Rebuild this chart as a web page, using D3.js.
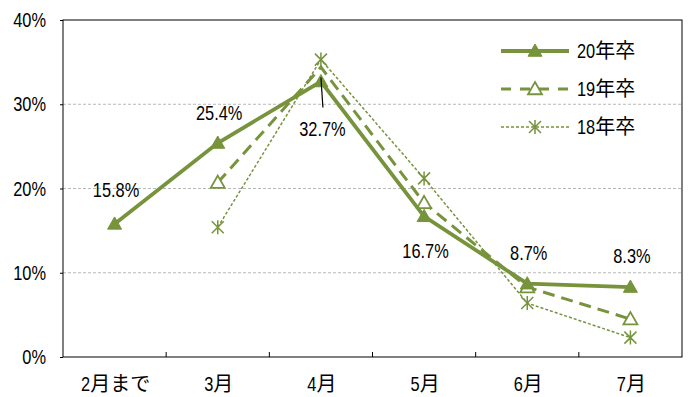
<!DOCTYPE html>
<html><head><meta charset="utf-8">
<script src="https://cdn.jsdelivr.net/npm/d3@7"></script>
<style>
body{margin:0;background:#fff;}
</style></head>
<body><svg id="c" width="691" height="397"></svg>
<script>
const categories = ["2月まで","3月","4月","5月","6月","7月"];
const s20 = [15.8, 25.4, 32.7, 16.7, 8.7, 8.3];
const s19 = [null, 20.7, 34.4, 18.3, 8.3, 4.5];
const s18 = [null, 15.4, 35.3, 21.2, 6.4, 2.3];
const seriesNames = ["20年卒","19年卒","18年卒"];
const yTicks = [0,10,20,30,40];
const labels20 = ["15.8%","25.4%","32.7%","16.7%","8.7%","8.3%"];

const green = "#77933C";
const FS = 20, SX = 0.82;
const svg = d3.select("#c");
const L=63, R=682, T=20, B=357;
const x = d3.scaleBand().domain(categories).range([L,R]);
const y = d3.scaleLinear().domain([0,40]).range([B,T]);
const cx = c => x(c)+x.bandwidth()/2;

// text helper: Latin runs condensed, CJK runs normal width
function richText(g, str, px, py, anchor){
  const grp = g.append("g");
  const runs = str.match(/[\x00-\x7F]+|[^\x00-\x7F]+/g);
  let cur = 0;
  runs.forEach(r=>{
    const ascii = /^[\x00-\x7F]+$/.test(r);
    const t = grp.append("text").attr("font-size",FS).attr("fill","#000")
      .attr("font-family", ascii ? "Liberation Sans, Arial, sans-serif" : "Noto Sans CJK JP, sans-serif")
      .text(r);
    const w = t.node().getComputedTextLength() * (ascii ? SX : 1);
    t.attr("transform", `translate(${cur},0)` + (ascii ? ` scale(${SX},1)` : ""));
    cur += w;
  });
  const off = anchor==="middle" ? -cur/2 : anchor==="end" ? -cur : 0;
  grp.attr("transform", `translate(${px+off},${py})`);
  return grp;
}

// gridlines
svg.append("g").selectAll("line").data(yTicks.filter(d=>d>0&&d<40)).join("line")
  .attr("x1",L).attr("x2",R).attr("y1",d=>y(d)).attr("y2",d=>y(d))
  .attr("stroke","#b8b8b8").attr("stroke-dasharray","3,2").attr("stroke-width",1);

// frame
svg.append("rect").attr("x",L).attr("y",T).attr("width",R-L).attr("height",B-T)
  .attr("fill","none").attr("stroke","#000").attr("stroke-width",1);

// y axis
const ya = svg.append("g").attr("transform",`translate(${L},0)`)
  .call(d3.axisLeft(y).tickValues(yTicks).tickFormat("").tickSize(3));
ya.select(".domain").remove();
ya.selectAll("line").attr("stroke","#000");
const yl = svg.append("g");
yTicks.forEach(d=>richText(yl, d+"%", 46, y(d)+7, "end"));

// x axis (ticks inward, at band boundaries)
const bounds = categories.slice(1).map(c=>x(c));
svg.append("g").selectAll("line").data(bounds).join("line")
  .attr("x1",d=>d).attr("x2",d=>d).attr("y1",B).attr("y2",B-5).attr("stroke","#000");
const xl = svg.append("g");
categories.forEach(c=>richText(xl, c, cx(c)+1, 391, "middle"));

const line = d3.line().defined(d=>d.v!=null).x(d=>cx(d.c)).y(d=>y(d.v));
const toPts = arr => categories.map((c,i)=>({c, v:arr[i]}));

function triangle(g, px, py, filled){
  const s=7;
  g.append("path").attr("d",`M${px},${py-s}L${px+s},${py+s*0.75}L${px-s},${py+s*0.75}Z`)
   .attr("fill",filled?green:"#fff").attr("stroke",green).attr("stroke-width",filled?1:1.8);
}
function star(g, px, py){
  const s=6;
  g.append("path").attr("d",`M${px-s},${py-s}L${px+s},${py+s}M${px+s},${py-s}L${px-s},${py+s}M${px},${py-s-1}L${px},${py+s+1}`)
   .attr("stroke",green).attr("stroke-width",1.5).attr("fill","none");
}

// 18
const g18 = svg.append("g");
g18.append("path").datum(toPts(s18)).attr("d",line).attr("fill","none")
  .attr("stroke",green).attr("stroke-width",1.5).attr("stroke-dasharray","3,2");
toPts(s18).filter(d=>d.v!=null).forEach(d=>star(g18,cx(d.c),y(d.v)));
// 19 (marker at the 4月 peak is hidden in the reference)
const g19 = svg.append("g");
g19.append("path").datum(toPts(s19)).attr("d",line).attr("fill","none")
  .attr("stroke",green).attr("stroke-width",3).attr("stroke-dasharray","12,7");
toPts(s19).filter(d=>d.v!=null && d.c!=="4月").forEach(d=>triangle(g19,cx(d.c),y(d.v),false));
// 20
const g20 = svg.append("g");
g20.append("path").datum(toPts(s20)).attr("d",line).attr("fill","none")
  .attr("stroke",green).attr("stroke-width",3.8);
toPts(s20).forEach(d=>triangle(g20,cx(d.c),y(d.v),true));

// data labels (offsets relative to the marker, in px)
const lblOff = [-27, -23, 54, 42, -24, -24];
const dl = svg.append("g");
labels20.forEach((t,i)=>richText(dl, t, cx(categories[i])+1.5, y(s20[i])+lblOff[i], "middle"));
// leader line for 32.7%
svg.append("line").attr("x1",cx(categories[2])).attr("y1",y(s20[2])-4)
  .attr("x2",cx(categories[2])+2).attr("y2",y(s20[2])+26).attr("stroke","#000").attr("stroke-width",1.2);

// legend
const lg = svg.append("g");
const lrows = [51, 89, 127];
const lx1=501, lx2=569, lmx=535;
lg.append("line").attr("x1",lx1).attr("x2",lx2).attr("y1",lrows[0]).attr("y2",lrows[0]).attr("stroke",green).attr("stroke-width",3.8);
triangle(lg,lmx,lrows[0],true);
lg.append("line").attr("x1",lx1).attr("x2",lx2).attr("y1",lrows[1]).attr("y2",lrows[1]).attr("stroke",green).attr("stroke-width",3).attr("stroke-dasharray","10,9");
triangle(lg,lmx,lrows[1],false);
lg.append("line").attr("x1",lx1).attr("x2",lx2).attr("y1",lrows[2]).attr("y2",lrows[2]).attr("stroke",green).attr("stroke-width",1.5).attr("stroke-dasharray","3,2");
star(lg,lmx,lrows[2]);
seriesNames.forEach((n,i)=>richText(lg, n, 577, lrows[i]+7, "start"));
</script></body></html>
